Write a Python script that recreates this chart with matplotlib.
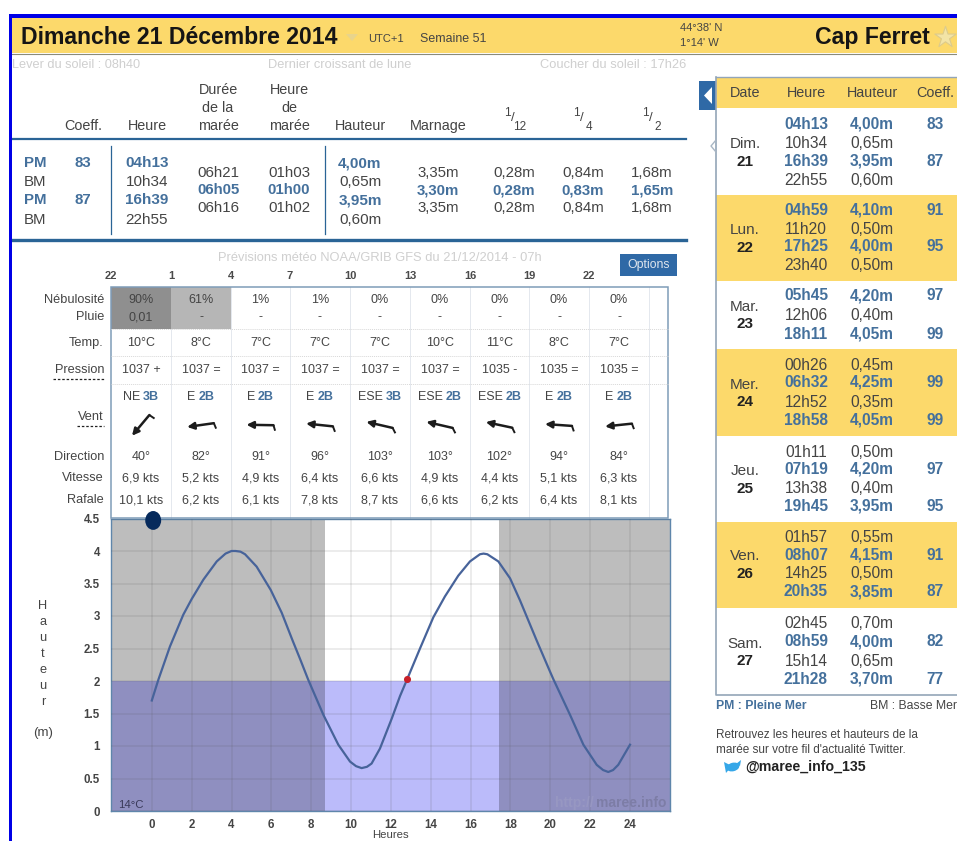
import numpy as np
import matplotlib
matplotlib.use('Agg')
import matplotlib.pyplot as plt
from matplotlib.patches import Rectangle, Ellipse, Polygon

plt.rcParams['font.family'] = ['Liberation Sans', 'DejaVu Sans']

BLUE = '#44709c'
DARK = '#444444'
PALE = '#cfcfcf'
YELLOW = '#fcd96b'
LINE = '#2a6496'

# tide curve
hours = [0, 0.33, 0.91, 1.58, 2.0, 2.59, 3.26, 3.7, 4.0, 4.2, 4.45, 4.68, 5.26, 5.97, 6.52, 7.07, 7.44, 7.85, 8.61,
         9.36, 9.95, 10.25, 10.53, 10.8, 11.03, 11.45, 12.04, 12.46, 12.82, 13.46, 14.13, 14.71, 15.38, 15.97,
         16.47, 16.65, 16.84, 17.39, 17.98, 18.48, 19.32, 19.95, 20.15, 20.99, 21.66, 22.33, 22.65, 22.91, 23.15,
         23.41, 24]
height = [1.70, 2.02, 2.53, 3.02, 3.26, 3.56, 3.84, 3.96, 4.0, 4.0, 3.99, 3.95, 3.76, 3.40, 3.05, 2.62, 2.34, 2.02, 1.48,
          1.02, 0.76, 0.69, 0.66, 0.68, 0.73, 0.96, 1.42, 1.77, 2.03, 2.50, 2.98, 3.30, 3.62, 3.84,
          3.95, 3.96, 3.95, 3.84, 3.58, 3.24, 2.62, 2.17, 2.03, 1.48, 1.02, 0.71, 0.63, 0.60, 0.63,
          0.71, 1.02]
sunrise = 8.67
sunset = 17.43
now_hour = 12.82
now_height = 2.03

# top table
top_sides = ['PM', 'BM', 'PM', 'BM']
top_coeff = ['83', '', '87', '']
top_time = ['04h13', '10h34', '16h39', '22h55']
top_height = ['4,00m', '0,65m', '3,95m', '0,60m']
top_duree = ['06h21', '06h05', '06h16']
top_heure = ['01h03', '01h00', '01h02']
top_marnage = ['3,35m', '3,30m', '3,35m']
top_12 = ['0,28m', '0,28m', '0,28m']
top_4 = ['0,84m', '0,83m', '0,84m']
top_2 = ['1,68m', '1,65m', '1,68m']

# forecast table
fc_hours = ['22', '1', '4', '7', '10', '13', '16', '19', '22']
cloud = ['90%', '61%', '1%', '1%', '0%', '0%', '0%', '0%', '0%']
rain = ['0,01', '-', '-', '-', '-', '-', '-', '-', '-']
temp = ['10°C', '8°C', '7°C', '7°C', '7°C', '10°C', '11°C', '8°C', '7°C']
pressure = ['1037 +', '1037 =', '1037 =', '1037 =', '1037 =', '1037 =', '1035 -', '1035 =', '1035 =']
wind_name = ['NE', 'E', 'E', 'E', 'ESE', 'ESE', 'ESE', 'E', 'E']
wind_b = ['3B', '2B', '2B', '2B', '3B', '2B', '2B', '2B', '2B']
direction = [40, 82, 91, 96, 103, 103, 102, 94, 84]
speed = ['6,9', '5,2', '4,9', '6,4', '6,6', '4,9', '4,4', '5,1', '6,3']
gust = ['10,1', '6,2', '6,1', '7,8', '8,7', '6,6', '6,2', '6,4', '8,1']

# week table
days = ['Dim.', 'Lun.', 'Mar.', 'Mer.', 'Jeu.', 'Ven.', 'Sam.']
day_nums = ['21', '22', '23', '24', '25', '26', '27']
week_times = [['04h13', '10h34', '16h39', '22h55'], ['04h59', '11h20', '17h25', '23h40'],
              ['05h45', '12h06', '18h11'], ['00h26', '06h32', '12h52', '18h58'],
              ['01h11', '07h19', '13h38', '19h45'], ['01h57', '08h07', '14h25', '20h35'],
              ['02h45', '08h59', '15h14', '21h28']]
week_heights = [['4,00m', '0,65m', '3,95m', '0,60m'], ['4,10m', '0,50m', '4,00m', '0,50m'],
                ['4,20m', '0,40m', '4,05m'], ['0,45m', '4,25m', '0,35m', '4,05m'],
                ['0,50m', '4,20m', '0,40m', '3,95m'], ['0,55m', '4,15m', '0,50m', '3,85m'],
                ['0,70m', '4,00m', '0,65m', '3,70m']]
week_coeffs = [['83', '', '87', ''], ['91', '', '95', ''], ['97', '', '99'], ['', '99', '', '99'],
               ['', '97', '', '95'], ['', '91', '', '87'], ['', '82', '', '77']]

fig = plt.figure(figsize=(9.57, 8.41), dpi=100, facecolor='white')

# whole page in pixel coordinates
pg = fig.add_axes([0, 0, 1, 1], zorder=1)
pg.set_xlim(0, 957)
pg.set_ylim(841, 0)
pg.axis('off')


def t(x, y, s, size=9.3, color=DARK, ha='center', weight='normal'):
    return pg.text(x, y, s, fontsize=size, color=color, ha=ha, va='center', fontweight=weight, clip_on=True)


def box(x0, y0, x1, y1, color, **kw):
    pg.add_patch(Rectangle((x0, y0), x1 - x0, y1 - y0, facecolor=color, edgecolor='none', **kw))


# page frame and header
box(9, 14, 957, 17.5, '#0000e6', zorder=5)
box(9, 14, 12, 841, '#0000e6', zorder=5)
box(12, 18, 957, 53, YELLOW)
pg.plot([12, 957], [53.5, 53.5], color='#8a8a7a', lw=0.8)
t(21, 37, 'Dimanche 21 Décembre 2014', size=16.6, color='#151515', ha='left', weight='bold')
pg.add_patch(Polygon([[346, 34], [358, 34], [352, 41]], facecolor='#e8d48c', edgecolor='none'))
t(368, 39, 'UTC+1', size=8, ha='left')
t(420, 39, 'Semaine 51', size=8.9, ha='left')
t(680, 28, "44°38' N", size=8, ha='left')
t(680, 43, "1°14' W", size=8, ha='left')
t(930, 37, 'Cap Ferret', size=16.6, color='#151515', ha='right', weight='bold')
pg.scatter([945], [37], s=260, marker='*', facecolor='#f3e4a6', edgecolor='#dccb8c', lw=0.8)

t(12, 65, 'Lever du soleil : 08h40', size=9.2, color=PALE, ha='left')
t(340, 65, 'Dernier croissant de lune', size=9.3, color=PALE)
t(686, 65, 'Coucher du soleil : 17h26', size=9.3, color=PALE, ha='right')

# top table headers
HDR = 10.4
t(83, 126, 'Coeff.', size=HDR)
t(147, 126, 'Heure', size=HDR)
for y, s in zip([90, 108, 126], ['Durée', 'de la', 'marée']):
    t(218, y, s, size=HDR)
for y, s in zip([90, 108, 126], ['Heure', 'de', 'marée']):
    t(289, y, s, size=HDR)
t(360, 126, 'Hauteur', size=HDR)
t(438, 126, 'Marnage', size=HDR)
for x, den in zip([514, 583, 652], ['12', '4', '2']):
    t(x - 7, 113, '1', size=8.5)
    t(x - 1, 118, '/', size=9.5)
    t(x + 6, 127, den, size=8.5)
pg.plot([12, 686], [139, 139], color=LINE, lw=1.6)
pg.plot([12, 686], [240, 240], color=LINE, lw=2.4)
pg.plot([111, 111], [146, 234], color=LINE, lw=0.9)
pg.plot([325, 325], [146, 234], color=LINE, lw=0.9)

# top table rows
col4_y = [163, 182, 200, 220]
col3_y = [173, 190, 208]
for i, y in enumerate(col4_y):
    pm = top_sides[i] == 'PM'
    c = BLUE if pm else DARK
    w = 'bold' if pm else 'normal'
    t(24, y, top_sides[i], size=10.8, color=c, ha='left', weight=w)
    t(83, y, top_coeff[i], size=10.8, color=BLUE, weight='bold')
    t(147, y, top_time[i], size=11, color=c, weight=w)
    t(360, y, top_height[i], size=11, color=c, weight=w)
for x, col in zip([218, 289, 438, 514, 583, 652], [top_duree, top_heure, top_marnage, top_12, top_4, top_2]):
    for i, y in enumerate(col3_y):
        t(x, y, col[i], size=10.8, color=BLUE if i == 1 else DARK, weight='bold' if i == 1 else 'normal')

# forecast table
t(380, 258, 'Prévisions météo NOAA/GRIB GFS du 21/12/2014 - 07h', size=9.3, color=PALE)
box(620, 254, 677, 276, '#2f69a6')
t(648.5, 265, 'Options', size=8.8, color='#dfe6ee')
edges = [111, 171, 231, 290, 350, 410, 470, 529, 589, 649, 668]
mid = [(edges[i] + edges[i + 1]) / 2 for i in range(9)]
box(edges[0], 287, edges[1], 329, '#8f8f8f')
box(edges[1], 287, edges[2], 329, '#b6b6b6')
for x in edges[1:-1]:
    pg.plot([x, x], [287, 518], color='#e4e8ee', lw=0.7, zorder=0.5)
for y in [329, 356, 384]:
    pg.plot([111, 668], [y, y], color='#d8d8d8', lw=0.7, ls=(0, (1, 1)))
pg.add_patch(Rectangle((111, 287), 557, 231, facecolor='none', edgecolor='#7f9cb8', lw=1.1))
for x, s in zip(edges, fc_hours):
    t(x, 276, s, size=8, weight='bold', color='#4a4a4a')

for y, s in [(300, 'Nébulosité'), (317, 'Pluie'), (343, 'Temp.'), (370, 'Pression'), (417, 'Vent'),
             (457, 'Direction'), (478, 'Vitesse'), (500, 'Rafale')]:
    t(104, y, s, size=9.2, ha='right')
pg.plot([53, 104], [379, 379], color='#222222', lw=0.9, ls=(0, (2, 1.5)))
pg.plot([77, 104], [426, 426], color='#222222', lw=0.9, ls=(0, (2, 1.5)))

renderer = fig.canvas.get_renderer()
for i, x in enumerate(mid):
    t(x, 300, cloud[i], size=9)
    t(x, 317, rain[i], size=9)
    t(x, 343, temp[i], size=9)
    t(x, 370, pressure[i], size=9)
    # wind name and Beaufort force share one centred line in two colours
    a_txt = t(0, 397, wind_name[i], size=9, ha='left')
    b_txt = t(0, 397, wind_b[i], size=9, color=BLUE, ha='left', weight='bold')
    wa = a_txt.get_window_extent(renderer).width
    wb = b_txt.get_window_extent(renderer).width
    start = x - (wa + 3 + wb) / 2
    a_txt.set_x(start)
    b_txt.set_x(start + wa + 3)
    t(x, 457, f'{direction[i]}°', size=9)
    t(x, 478, speed[i] + ' kts', size=9)
    t(x, 500, gust[i] + ' kts', size=9)
    # arrow pointing where the wind goes, barb at its tail
    a = np.deg2rad(direction[i])
    dx, dy = np.sin(a), -np.cos(a)
    head = (x - 14 * dx, 425 - 14 * dy)
    tail = (x + 13 * dx, 425 + 13 * dy)
    pg.annotate('', xy=head, xytext=tail,
                arrowprops=dict(arrowstyle='-|>', color='#1c1c1c', lw=1.8, mutation_scale=10, shrinkA=0, shrinkB=0))
    pg.plot([tail[0], tail[0] + 1.5 * dx + 5.5 * abs(dy) * np.sign(dx)],
            [tail[1], tail[1] + 5.5 * abs(dx)],
            color='#1c1c1c', lw=1.4, solid_capstyle='butt')

# tide chart, in its own axes
L, R, T, B = 111, 670.5, 518.5, 811
ax = fig.add_axes([L / 957, (841 - B) / 841, (R - L) / 957, (B - T) / 841], zorder=2)
x0 = 151.8
ppu = (630 - 151.8) / 24
ax.set_xlim((L - x0) / ppu, (R - x0) / ppu)
ax.set_ylim(0, 4.5)
ax.set_xticks(range(0, 25, 2))
ax.set_yticks(np.arange(0, 4.6, 0.5))
ax.set_yticklabels(['0', '0.5', '1', '1.5', '2', '2.5', '3', '3.5', '4', '4.5'])
ax.tick_params(axis='x', length=0, labelsize=8.3, labelcolor='#444444', pad=6)
ax.tick_params(axis='y', length=0, labelsize=8.3, labelcolor='#444444', pad=8)
for lab in ax.get_xticklabels() + ax.get_yticklabels():
    lab.set_fontweight('bold')
xl = ax.get_xlim()
for a0, a1, upper, lower in [(xl[0], sunrise, '#bdbdbd', '#8f8fc0'), (sunrise, sunset, 'white', '#bbbbfa'),
                             (sunset, xl[1], '#bdbdbd', '#8f8fc0')]:
    ax.add_patch(Rectangle((a0, 2), a1 - a0, 2.5, facecolor=upper, edgecolor='none', zorder=0))
    ax.add_patch(Rectangle((a0, 0), a1 - a0, 2, facecolor=lower, edgecolor='none', zorder=0))
ax.grid(color='#555555', alpha=0.13, lw=1.2, zorder=1.5)
ax.set_axisbelow(False)
ax.plot(hours, height, color='#47639a', lw=1.6, zorder=3, solid_joinstyle='round')
ax.scatter([now_hour], [now_height], s=26, color='#c8202a', zorder=4, lw=0)
ax.add_patch(Ellipse((0.07, 4.47), 0.8, 0.29, facecolor='#062a5c', edgecolor='none', zorder=6, clip_on=False))
ax.text(-1.7, 0.1, '14°C', fontsize=8.2, color='#3a3a5a', va='center')
ax.text(25.85, 0.12, 'maree.info', fontsize=10, color='#7d7da6', ha='right', va='center', fontweight='bold')
ax.text(22.2, 0.12, 'http://', fontsize=10, color='#9797c2', ha='right', va='center', fontweight='bold')
for s in ax.spines.values():
    s.set_color('#5f86ab')
    s.set_linewidth(1)
ax.set_xlabel('Heures', fontsize=8.2, color=DARK, labelpad=-1)

# vertical axis title, one letter per line
for y, s in zip([606, 622, 638, 654, 670, 686, 702], 'Hauteur'):
    t(43, y, s, size=9.2)
t(43, 733, '(m)', size=9.5)

# week table
box(699, 81, 716, 110, '#2f69a6')
pg.add_patch(Polygon([[712, 87], [712, 104], [704, 95.5]], facecolor='white', edgecolor='none'))
box(716, 77, 957, 108, YELLOW)
row_edges = [108, 195, 281, 349, 436, 522, 608, 695]
for i in range(7):
    if i % 2 == 1:
        box(716, row_edges[i], 957, row_edges[i + 1], YELLOW)
pg.plot([716, 716, 957], [77, 695, 695], color='#93a5b8', lw=1.2)
pg.plot([716, 957], [77, 77], color='#93a5b8', lw=1)
pg.plot([716, 711, 716], [140, 146, 152], color='#a8b6c4', lw=1)
WK = 11.2
t(745, 93, 'Date', size=10.4)
t(806, 93, 'Heure', size=10.4)
t(872, 93, 'Hauteur', size=10.4)
t(935, 93, 'Coeff.', size=10.4)
line_y = [[124, 143, 161, 180], [210, 229, 246, 266], [296, 315, 334], [365, 382, 402, 420],
          [452, 469, 488, 506], [537, 555, 574, 592], [624, 642, 661, 679]]
for i in range(7):
    ys = line_y[i]
    mid_y = (ys[0] + ys[-1]) / 2
    t(745, mid_y - 8, days[i], size=11)
    t(745, mid_y + 9.5, day_nums[i], size=11, weight='bold', color='#222222')
    for j, y in enumerate(ys):
        pm = week_coeffs[i][j] != ''
        c = BLUE if pm else DARK
        w = 'bold' if pm else 'normal'
        t(806, y, week_times[i][j], size=WK, color=c, weight=w)
        t(872, y, week_heights[i][j], size=WK, color=c, weight=w)
        t(935, y, week_coeffs[i][j], size=WK, color=BLUE, weight='bold')

t(716, 706, 'PM : Pleine Mer', size=8.8, color=BLUE, ha='left', weight='bold')
t(870, 706, 'BM : Basse Mer', size=8.8, ha='left')
t(716, 735, 'Retrouvez les heures et hauteurs de la', size=8.5, ha='left')
t(716, 750, "marée sur votre fil d'actualité Twitter.", size=8.5, ha='left')
pg.add_patch(Ellipse((733, 767), 13, 8.5, angle=-15, facecolor='#35a7e8', edgecolor='none'))
pg.add_patch(Polygon([[724, 762], [732, 766], [726, 773]], facecolor='#35a7e8', edgecolor='none'))
pg.add_patch(Polygon([[736, 764], [741, 760], [740, 766]], facecolor='#35a7e8', edgecolor='none'))
t(745, 767, '@maree_info_135', size=10.2, color='#222222', ha='left', weight='bold')

fig.savefig('out.png', dpi=100)
